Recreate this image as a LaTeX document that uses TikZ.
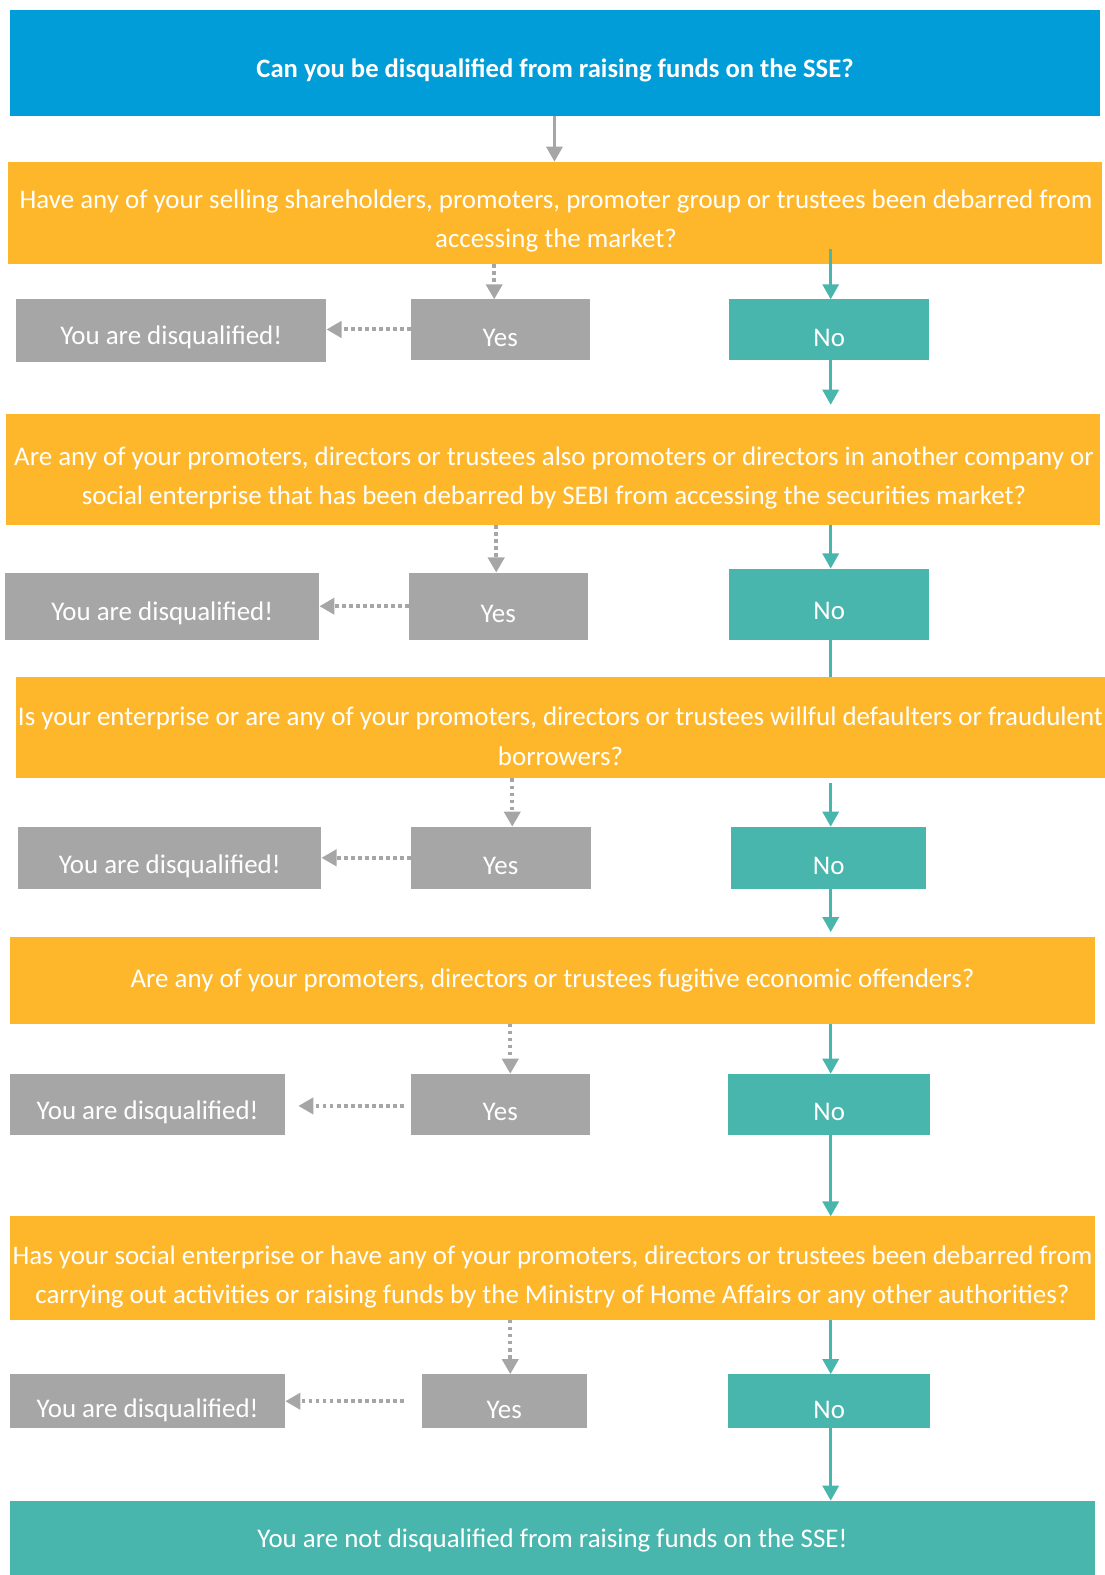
\documentclass[tikz,border=0pt]{standalone}
\usepackage{fontspec}
\setmainfont{Carlito}
\usetikzlibrary{arrows.meta}
\definecolor{sseblue}{RGB}{0,157,217}
\definecolor{sseorange}{RGB}{254,183,42}
\definecolor{sseteal}{RGB}{72,182,172}
\definecolor{ssegray}{RGB}{166,166,166}
\begin{document}
\begin{tikzpicture}[x=1pt,y=-1pt,
  box/.style={inner sep=0pt, outer sep=0pt, draw=none},
  titlebox/.style={box, fill=sseblue},
  qbox/.style={box, fill=sseorange},
  yesbox/.style={box, fill=ssegray},
  nobox/.style={box, fill=sseteal},
  txt/.style={text=white, inner sep=0pt, align=center, font=\fontsize{26.8}{39}\selectfont},
  ttxt/.style={txt, font=\fontsize{26.5}{30}\selectfont\bfseries},
  grayarrow/.style={draw=ssegray, line width=3pt, -{Triangle[width=16pt,length=15pt]}},
  dotarrow/.style={draw=ssegray, line width=4pt, dash pattern=on 3.5pt off 3.5pt, -{Triangle[width=16pt,length=15pt]}},
  tealarrow/.style={draw=sseteal, line width=3pt, -{Triangle[width=16pt,length=15pt]}},
  tealline/.style={draw=sseteal, line width=3pt}
]
\useasboundingbox (0,0) rectangle (1100,1568);

% title
\node[titlebox, minimum width=1085pt, minimum height=105pt] (title) at (552.5,62.5) {};
\node[ttxt] (titlet) at (552.5,70) {Can you be disqualified from raising funds on the SSE?};

% question 1
\node[qbox, minimum width=1089pt, minimum height=102pt] (q1) at (552.5,212) {};
\node[txt] (q1t) at (553.5,220) {Have any of your selling shareholders, promoters, promoter group or trustees been debarred from\\accessing the market?};
\node[yesbox, minimum width=309pt, minimum height=62pt] (d1) at (170.5,329) {};
\node[txt] (d1t) at (170.5,336) {You are disqualified!};
\node[yesbox, minimum width=178pt, minimum height=60pt] (y1) at (498,328) {};
\node[txt] (y1t) at (498,336) {Yes};
\node[nobox, minimum width=199pt, minimum height=60pt] (n1) at (825.5,328) {};
\node[txt] (n1t) at (825.5,336) {No};

% question 2
\node[qbox, minimum width=1089pt, minimum height=111pt] (q2) at (550.5,467.5) {};
\node[txt] (q2t) at (551.5,476) {Are any of your promoters, directors or trustees also promoters or directors in another company or\\social enterprise that has been debarred by SEBI from accessing the securities market?};
\node[yesbox, minimum width=313pt, minimum height=67pt] (d2) at (161.5,603.5) {};
\node[txt] (d2t) at (161.5,611) {You are disqualified!};
\node[yesbox, minimum width=178pt, minimum height=67pt] (y2) at (496,603.5) {};
\node[txt] (y2t) at (496,611) {Yes};
\node[nobox, minimum width=199pt, minimum height=71pt] (n2) at (825.5,601.5) {};
\node[txt] (n2t) at (825.5,608) {No};

% question 3
\node[qbox, minimum width=1084pt, minimum height=101pt] (q3) at (558,724.5) {};
\node[txt] (q3t) at (558,733) {Is your enterprise or are any of your promoters, directors or trustees willful defaulters or fraudulent\\borrowers?};
\node[yesbox, minimum width=302pt, minimum height=62pt] (d3) at (169,854) {};
\node[txt] (d3t) at (169,862) {You are disqualified!};
\node[yesbox, minimum width=179pt, minimum height=62pt] (y3) at (498.5,854) {};
\node[txt] (y3t) at (498.5,862) {Yes};
\node[nobox, minimum width=194pt, minimum height=62pt] (n3) at (825,854) {};
\node[txt] (n3t) at (825,862) {No};

% question 4
\node[qbox, minimum width=1080pt, minimum height=86pt] (q4) at (550,976) {};
\node[txt] (q4t) at (550,976) {Are any of your promoters, directors or trustees fugitive economic offenders?};
\node[yesbox, minimum width=274pt, minimum height=61pt] (d4) at (147,1099.5) {};
\node[txt] (d4t) at (147,1107) {You are disqualified!};
\node[yesbox, minimum width=178pt, minimum height=61pt] (y4) at (498,1099.5) {};
\node[txt] (y4t) at (498,1107) {Yes};
\node[nobox, minimum width=201pt, minimum height=61pt] (n4) at (825.5,1099.5) {};
\node[txt] (n4t) at (825.5,1107) {No};

% question 5
\node[qbox, minimum width=1080pt, minimum height=103pt] (q5) at (550,1262.5) {};
\node[txt] (q5t) at (550,1271) {Has your social enterprise or have any of your promoters, directors or trustees been debarred from\\carrying out activities or raising funds by the Ministry of Home Affairs or any other authorities?};
\node[yesbox, minimum width=274pt, minimum height=54pt] (d5) at (147,1395) {};
\node[txt] (d5t) at (147,1404) {You are disqualified!};
\node[yesbox, minimum width=164pt, minimum height=54pt] (y5) at (502,1395) {};
\node[txt] (y5t) at (502,1404) {Yes};
\node[nobox, minimum width=201pt, minimum height=54pt] (n5) at (825.5,1395) {};
\node[txt] (n5t) at (825.5,1404) {No};

% final
\node[nobox, minimum width=1080pt, minimum height=74pt] (fin) at (550,1531) {};
\node[txt] (fint) at (550,1534) {You are not disqualified from raising funds on the SSE!};

% connectors
\draw[grayarrow] (title.south -| 552,0) -- (q1.north -| 552,0);

\draw[dotarrow] (q1.south -| 492,0) -- (y1.north -| 492,0);
\draw[dotarrow] (y1.west) -- (d1.east |- y1.west);
\coordinate (t1) at (827,248);
\draw[tealarrow] (t1) -- (n1.north -| t1);
\draw[tealarrow, shorten >=9pt] (n1.south -| t1) -- (q2.north -| t1);

\draw[dotarrow] (q2.south -| 494,0) -- (y2.north -| 494,0);
\draw[dotarrow] (y2.west) -- (d2.east |- y2.west);
\draw[tealarrow] (q2.south -| t1) -- (n2.north -| t1);
\draw[tealline] (n2.south -| t1) -- (q3.north -| t1);

\draw[dotarrow] (q3.south -| 510,0) -- (y3.north -| 510,0);
\draw[dotarrow] (y3.west) -- (d3.east |- y3.west);
\draw[tealarrow, shorten <=5pt] (q3.south -| t1) -- (n3.north -| t1);
\draw[tealarrow, shorten >=5pt] (n3.south -| t1) -- (q4.north -| t1);

\draw[dotarrow] (q4.south -| 508,0) -- (y4.north -| 508,0);
\draw[dotarrow, shorten <=7pt, shorten >=13pt] (y4.west |- 0,1101) -- (d4.east |- 0,1101);
\draw[tealarrow] (q4.south -| t1) -- (n4.north -| t1);
\draw[tealarrow] (n4.south -| t1) -- (q5.north -| t1);

\draw[dotarrow] (q5.south -| 508,0) -- (y5.north -| 508,0);
\draw[dotarrow, shorten <=18pt] (y5.west) -- (d5.east);
\draw[tealarrow] (q5.south -| t1) -- (n5.north -| t1);
\draw[tealarrow] (n5.south -| t1) -- (fin.north -| t1);
\end{tikzpicture}
\end{document}
